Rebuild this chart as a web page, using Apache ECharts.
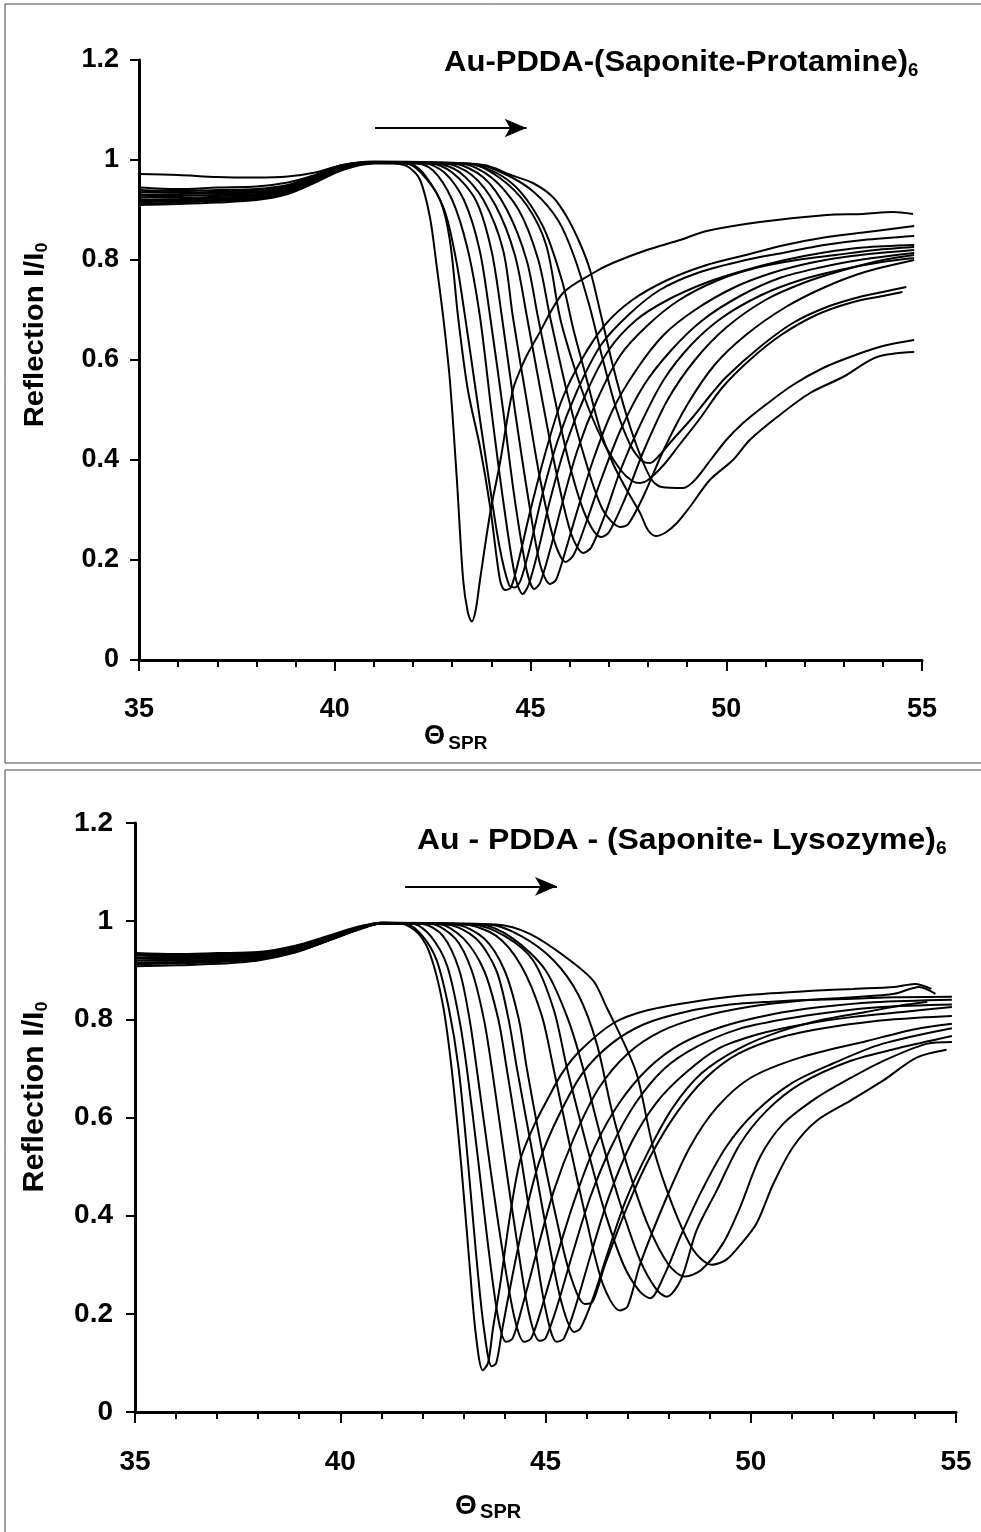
<!DOCTYPE html>
<html><head><meta charset="utf-8">
<script src="https://cdn.jsdelivr.net/npm/echarts@6/dist/echarts.min.js"></script>
<style>html,body{margin:0;padding:0;background:#fff}#c{width:981px;height:1532px}</style>
</head><body><div id="c"></div>
<script>
// ---------- axis ticks ----------
const xTicks = [35, 40, 45, 50, 55];
const yTicks = [0, 0.2, 0.4, 0.6, 0.8, 1, 1.2];

// ---------- top panel: Au-PDDA-(Saponite-Protamine)6 ----------
const t01 = [[35,0.972],[36,0.970],[37,0.966],[38,0.965],[38.8,0.967],[39.5,0.975],[40.2,0.99],[41,0.996],[41.6,0.993],[41.9,0.985],[42.18,0.96],[42.43,0.886],[42.6,0.79],[42.77,0.686],[42.94,0.56],[43.12,0.36],[43.28,0.16],[43.4,0.095],[43.5,0.077],[43.6,0.1],[43.71,0.16],[43.97,0.294],[44.22,0.394],[44.55,0.54],[44.85,0.6],[45.17,0.646],[45.83,0.734],[46.6,0.774],[47.1,0.794],[47.97,0.82],[48.82,0.84],[49.5,0.858],[50.86,0.876],[52.57,0.89],[53.5,0.892],[54.26,0.896],[54.77,0.892]];
const t02 = [[35,0.93],[36,0.932],[37,0.935],[38,0.937],[38.8,0.945],[39.5,0.965],[40.2,0.985],[41,0.996],[41.8,0.994],[42.2,0.975],[42.69,0.92],[42.94,0.84],[43.15,0.686],[43.4,0.54],[43.71,0.426],[43.97,0.306],[44.22,0.16],[44.35,0.14],[44.5,0.145],[44.7,0.2],[45.0,0.3],[45.4,0.42],[45.8,0.52],[46.3,0.6],[46.9,0.67],[47.6,0.72],[48.5,0.76],[49.5,0.79],[50.5,0.81],[51.5,0.83],[52.5,0.845],[53.5,0.855],[54.8,0.868]];
const t03 = [[35,0.918],[36,0.92],[37,0.924],[38,0.928],[38.8,0.94],[39.5,0.96],[40.2,0.983],[41,0.995],[41.9,0.993],[42.3,0.97],[42.8,0.9],[43.1,0.8],[43.33,0.686],[43.6,0.54],[43.9,0.38],[44.2,0.23],[44.45,0.15],[44.6,0.145],[44.75,0.16],[45.0,0.23],[45.3,0.33],[45.7,0.44],[46.2,0.54],[46.8,0.63],[47.5,0.69],[48.3,0.74],[49.3,0.775],[50.5,0.8],[51.5,0.815],[52.5,0.83],[53.5,0.84],[54.8,0.848]];
const t04 = [[35,0.94],[36,0.938],[37,0.94],[38,0.942],[38.8,0.95],[39.5,0.968],[40.2,0.988],[41,0.996],[42,0.995],[42.5,0.98],[43.0,0.92],[43.4,0.82],[43.71,0.686],[44.0,0.5],[44.3,0.32],[44.6,0.17],[44.8,0.132],[44.95,0.15],[45.2,0.22],[45.5,0.32],[45.9,0.43],[46.4,0.53],[47.0,0.62],[47.7,0.68],[48.5,0.72],[49.5,0.755],[50.5,0.78],[51.5,0.8],[52.5,0.815],[53.5,0.825],[54.8,0.83]];
const t05 = [[35,0.925],[36,0.928],[37,0.93],[38,0.93],[38.8,0.94],[39.5,0.962],[40.2,0.985],[41,0.995],[42.2,0.995],[42.8,0.975],[43.3,0.92],[43.7,0.82],[43.97,0.686],[44.3,0.5],[44.6,0.32],[44.9,0.18],[45.1,0.142],[45.25,0.155],[45.5,0.22],[45.8,0.31],[46.2,0.42],[46.7,0.52],[47.3,0.61],[48.0,0.67],[48.8,0.72],[49.8,0.76],[50.8,0.785],[51.8,0.8],[52.8,0.81],[53.8,0.82],[54.8,0.826]];
const t06 = [[35,0.912],[36,0.915],[37,0.918],[38,0.922],[38.8,0.935],[39.5,0.958],[40.2,0.982],[41,0.994],[42.4,0.994],[43.0,0.975],[43.6,0.92],[44.0,0.82],[44.27,0.686],[44.6,0.5],[44.95,0.32],[45.25,0.19],[45.5,0.152],[45.65,0.16],[45.9,0.22],[46.2,0.3],[46.6,0.4],[47.1,0.5],[47.7,0.58],[48.4,0.65],[49.2,0.7],[50.2,0.745],[51.2,0.775],[52.2,0.795],[53.2,0.808],[54.8,0.82]];
const t07 = [[35,0.935],[36,0.935],[37,0.933],[38,0.935],[38.8,0.945],[39.5,0.965],[40.2,0.987],[41,0.996],[42.6,0.993],[43.2,0.975],[43.8,0.92],[44.3,0.82],[44.55,0.686],[44.9,0.52],[45.25,0.36],[45.6,0.24],[45.9,0.196],[46.1,0.21],[46.4,0.27],[46.8,0.36],[47.3,0.46],[47.9,0.55],[48.6,0.62],[49.4,0.68],[50.4,0.73],[51.4,0.765],[52.4,0.785],[53.4,0.8],[54.8,0.814]];
const t08 = [[35,0.92],[36,0.922],[37,0.925],[38,0.928],[38.8,0.94],[39.5,0.96],[40.2,0.984],[41,0.995],[42.8,0.993],[43.5,0.97],[44.1,0.91],[44.6,0.81],[44.91,0.686],[45.3,0.52],[45.7,0.36],[46.05,0.25],[46.35,0.214],[46.55,0.225],[46.9,0.29],[47.3,0.38],[47.8,0.47],[48.4,0.56],[49.1,0.63],[49.9,0.685],[50.9,0.73],[51.9,0.76],[52.9,0.78],[53.9,0.795],[54.8,0.804]];
const t09 = [[35,0.93],[36,0.93],[37,0.928],[38,0.932],[38.8,0.942],[39.5,0.963],[40.2,0.986],[41,0.995],[43,0.993],[43.8,0.965],[44.4,0.9],[44.9,0.8],[45.19,0.686],[45.6,0.53],[46.0,0.39],[46.4,0.29],[46.8,0.246],[47.0,0.255],[47.4,0.32],[47.9,0.42],[48.5,0.52],[49.2,0.6],[50.0,0.665],[51.0,0.72],[52.0,0.755],[53.0,0.78],[54.0,0.8],[54.8,0.81]];
const t10 = [[35,0.91],[36,0.912],[37,0.915],[38,0.92],[38.8,0.932],[39.5,0.955],[40.2,0.98],[41,0.993],[43.2,0.993],[44.0,0.965],[44.7,0.9],[45.2,0.8],[45.5,0.686],[45.95,0.53],[46.4,0.4],[46.85,0.3],[47.3,0.266],[47.5,0.272],[47.9,0.33],[48.4,0.42],[49.0,0.51],[49.7,0.59],[50.5,0.65],[51.5,0.705],[52.5,0.745],[53.5,0.775],[54.8,0.8]];
const t11 = [[35,0.925],[36,0.925],[37,0.922],[38,0.925],[38.8,0.937],[39.5,0.96],[40.2,0.984],[41,0.994],[43.4,0.992],[44.5,0.955],[45.3,0.87],[45.8,0.76],[46.1,0.66],[46.44,0.56],[46.78,0.46],[47.1,0.394],[47.46,0.34],[47.8,0.294],[48.0,0.26],[48.2,0.248],[48.45,0.255],[48.74,0.274],[49.07,0.306],[49.58,0.36],[50.17,0.4],[50.6,0.44],[51.3,0.486],[52.14,0.534],[52.98,0.566],[53.85,0.606],[54.8,0.616]];
const t12 = [[35,0.945],[36,0.942],[37,0.945],[38,0.947],[38.8,0.955],[39.5,0.97],[40.2,0.99],[41,0.997],[43.6,0.992],[44.4,0.97],[45.1,0.935],[45.7,0.88],[46.1,0.81],[46.5,0.71],[46.85,0.6],[47.2,0.5],[47.55,0.43],[47.85,0.398],[48.05,0.394],[48.3,0.41],[48.56,0.434],[49.15,0.486],[49.6,0.53],[50.0,0.566],[50.86,0.626],[51.7,0.674],[52.57,0.706],[53.4,0.726],[54.0,0.736],[54.6,0.746]];
const t13 = [[35,0.915],[36,0.918],[37,0.92],[38,0.922],[38.8,0.935],[39.5,0.958],[40.2,0.983],[41,0.994],[43.4,0.993],[44.2,0.965],[44.9,0.91],[45.4,0.83],[45.75,0.686],[46.1,0.59],[46.5,0.5],[46.9,0.43],[47.3,0.38],[47.6,0.358],[47.8,0.354],[48.0,0.36],[48.4,0.39],[48.8,0.43],[49.3,0.48],[49.9,0.545],[50.6,0.6],[51.4,0.65],[52.3,0.69],[53.2,0.715],[54.0,0.728],[54.5,0.736]];
const t14 = [[35,0.935],[36,0.94],[37,0.938],[38,0.94],[38.8,0.948],[39.5,0.967],[40.2,0.988],[41,0.996],[43.8,0.99],[44.5,0.97],[45.06,0.954],[45.57,0.926],[45.93,0.886],[46.26,0.834],[46.52,0.78],[46.8,0.69],[47.1,0.59],[47.45,0.49],[47.8,0.41],[48.1,0.36],[48.35,0.346],[48.9,0.344],[49.2,0.36],[49.6,0.4],[50.0,0.44],[50.43,0.474],[51.0,0.51],[51.7,0.55],[52.5,0.585],[53.3,0.61],[54.0,0.628],[54.8,0.64]];
const topCurves = [t01,t02,t03,t04,t05,t06,t07,t08,t09,t10,t11,t12,t13,t14];
const topArrow = [[41.03,1.064],[44.9,1.064]];

// ---------- bottom panel: Au - PDDA - (Saponite- Lysozyme)6 ----------
const b01 = [[35,0.925],[36,0.926],[37,0.927],[38,0.931],[38.9,0.945],[39.7,0.967],[40.5,0.987],[41,0.997],[41.5,0.995],[41.9,0.975],[42.2,0.93],[42.5,0.83],[42.71,0.702],[42.95,0.5],[43.15,0.3],[43.3,0.16],[43.47,0.085],[43.6,0.1],[43.72,0.17],[43.9,0.262],[44.13,0.397],[44.38,0.512],[44.7,0.58],[45.03,0.634],[45.4,0.69],[45.84,0.736],[46.65,0.792],[47.46,0.818],[48.76,0.838],[50,0.85],[51.5,0.858],[52.5,0.862],[53.5,0.866],[54.0,0.872],[54.4,0.862]];
const b02 = [[35,0.915],[36,0.917],[37,0.92],[38,0.926],[38.9,0.94],[39.7,0.963],[40.5,0.985],[41,0.996],[41.6,0.994],[42.0,0.97],[42.35,0.92],[42.65,0.82],[42.88,0.702],[43.1,0.52],[43.3,0.33],[43.5,0.17],[43.69,0.093],[43.8,0.1],[43.95,0.17],[44.2,0.28],[44.5,0.4],[44.85,0.51],[45.3,0.6],[45.9,0.69],[46.6,0.75],[47.4,0.79],[48.4,0.815],[49.5,0.83],[50.5,0.836],[51.5,0.84],[52.5,0.842],[53.5,0.845],[54.9,0.846]];
const b03 = [[35,0.932],[36,0.93],[37,0.931],[38,0.934],[38.9,0.948],[39.7,0.968],[40.5,0.988],[41,0.997],[41.8,0.994],[42.2,0.97],[42.6,0.91],[42.9,0.8],[43.08,0.702],[43.35,0.52],[43.6,0.34],[43.85,0.19],[44.04,0.143],[44.2,0.15],[44.45,0.22],[44.8,0.33],[45.2,0.45],[45.7,0.56],[46.3,0.66],[47.0,0.73],[47.8,0.775],[48.8,0.805],[50,0.826],[51.2,0.838],[52.5,0.845],[53.5,0.852],[54.1,0.866],[54.5,0.852]];
const b04 = [[35,0.92],[36,0.92],[37,0.922],[38,0.928],[38.9,0.942],[39.7,0.964],[40.5,0.986],[41,0.996],[42,0.994],[42.5,0.97],[42.9,0.9],[43.15,0.8],[43.32,0.702],[43.65,0.5],[43.95,0.33],[44.25,0.19],[44.48,0.143],[44.65,0.15],[44.9,0.21],[45.25,0.31],[45.7,0.43],[46.2,0.54],[46.8,0.63],[47.5,0.7],[48.3,0.75],[49.3,0.785],[50.5,0.81],[51.7,0.825],[53,0.835],[54.9,0.84]];
const b05 = [[35,0.908],[36,0.91],[37,0.913],[38,0.92],[38.9,0.936],[39.7,0.96],[40.5,0.984],[41,0.995],[42.2,0.994],[42.8,0.965],[43.2,0.9],[43.5,0.8],[43.69,0.702],[44.0,0.52],[44.3,0.35],[44.6,0.2],[44.85,0.145],[45.0,0.15],[45.3,0.22],[45.65,0.32],[46.1,0.44],[46.6,0.54],[47.2,0.63],[47.9,0.7],[48.7,0.745],[49.7,0.78],[50.8,0.8],[52,0.815],[53.2,0.825],[54.9,0.83]];
const b06 = [[35,0.935],[36,0.933],[37,0.935],[38,0.937],[38.9,0.95],[39.7,0.97],[40.5,0.99],[41,0.997],[42.4,0.994],[43.0,0.965],[43.5,0.9],[43.85,0.8],[44.05,0.702],[44.4,0.52],[44.7,0.36],[45.0,0.21],[45.27,0.143],[45.45,0.15],[45.75,0.22],[46.1,0.32],[46.55,0.44],[47.1,0.55],[47.7,0.63],[48.4,0.69],[49.2,0.74],[50.2,0.77],[51.3,0.79],[52.5,0.805],[53.7,0.815],[54.9,0.825]];
const b07 = [[35,0.92],[36,0.922],[37,0.925],[38,0.93],[38.9,0.943],[39.7,0.965],[40.5,0.987],[41,0.996],[42.6,0.993],[43.3,0.965],[43.8,0.9],[44.1,0.8],[44.3,0.702],[44.7,0.52],[45.05,0.36],[45.4,0.22],[45.7,0.163],[45.85,0.17],[46.15,0.23],[46.5,0.32],[46.95,0.43],[47.5,0.53],[48.1,0.62],[48.8,0.69],[49.7,0.74],[50.7,0.775],[51.8,0.8],[52.8,0.815],[53.8,0.83],[54.3,0.836]];
const b08 = [[35,0.925],[36,0.928],[37,0.928],[38,0.931],[38.9,0.944],[39.7,0.966],[40.5,0.988],[41,0.996],[42.8,0.993],[43.5,0.965],[44.0,0.9],[44.35,0.8],[44.54,0.702],[44.9,0.54],[45.25,0.4],[45.6,0.28],[45.96,0.22],[46.15,0.225],[46.45,0.3],[47.0,0.42],[47.55,0.52],[48.2,0.61],[48.9,0.68],[49.7,0.73],[50.8,0.765],[52.0,0.785],[53.5,0.8],[54.9,0.807]];
const b09 = [[35,0.915],[36,0.916],[37,0.918],[38,0.923],[38.9,0.937],[39.7,0.961],[40.5,0.985],[41,0.995],[43,0.993],[43.8,0.97],[44.4,0.91],[44.9,0.81],[45.19,0.702],[45.6,0.54],[46.0,0.39],[46.4,0.26],[46.81,0.207],[47.0,0.215],[47.3,0.3],[47.95,0.437],[48.52,0.54],[49.17,0.62],[49.98,0.68],[51.2,0.722],[52.83,0.756],[54.0,0.78],[54.9,0.791]];
const b10 = [[35,0.93],[36,0.93],[37,0.932],[38,0.934],[38.9,0.946],[39.7,0.967],[40.5,0.988],[41,0.996],[43.2,0.993],[44.0,0.97],[44.7,0.92],[45.2,0.82],[45.52,0.702],[45.95,0.56],[46.4,0.42],[46.9,0.3],[47.3,0.245],[47.55,0.232],[47.9,0.28],[48.3,0.36],[48.8,0.45],[49.4,0.54],[50.1,0.61],[51.0,0.67],[52.0,0.71],[53.2,0.75],[54.9,0.782]];
const b11 = [[35,0.925],[36,0.924],[37,0.926],[38,0.93],[38.9,0.943],[39.7,0.965],[40.5,0.987],[41,0.996],[43.4,0.993],[44.2,0.965],[45.0,0.9],[45.55,0.8],[45.91,0.702],[46.35,0.56],[46.8,0.43],[47.3,0.31],[47.7,0.25],[47.95,0.235],[48.3,0.27],[48.68,0.37],[49.17,0.451],[49.74,0.546],[50.39,0.614],[51.2,0.668],[52.42,0.715],[53.63,0.742],[54.9,0.766]];
const b12 = [[35,0.912],[36,0.914],[37,0.917],[38,0.922],[38.9,0.937],[39.7,0.96],[40.5,0.985],[41,0.995],[43.6,0.993],[44.4,0.97],[45.2,0.92],[45.8,0.85],[46.25,0.75],[46.6,0.62],[47.0,0.5],[47.5,0.38],[48.0,0.3],[48.4,0.276],[48.8,0.29],[49.32,0.343],[49.74,0.417],[50.23,0.52],[50.79,0.587],[51.6,0.64],[52.42,0.68],[53.22,0.715],[54.28,0.75],[54.9,0.754]];
const b13 = [[35,0.93],[36,0.932],[37,0.933],[38,0.935],[38.9,0.948],[39.7,0.968],[40.5,0.989],[41,0.997],[43.8,0.993],[44.62,0.974],[45.52,0.925],[46.17,0.878],[46.49,0.824],[46.81,0.77],[47.22,0.689],[47.62,0.54],[48.1,0.42],[48.6,0.33],[49.05,0.3],[49.4,0.31],[49.74,0.34],[50.14,0.384],[50.55,0.465],[51.03,0.54],[51.6,0.593],[52.42,0.634],[53.22,0.675],[54.04,0.722],[54.77,0.738]];
const bottomCurves = [b01,b02,b03,b04,b05,b06,b07,b08,b09,b10,b11,b12,b13];
const bottomArrow = [[41.58,1.071],[45.28,1.071]];

// ---------- texts ----------
const topTitle = ['Au-PDDA-(Saponite-Protamine)', '6'];
const bottomTitle = ['Au - PDDA - (Saponite- Lysozyme)', '6'];
const yName = ['Reflection I/I', '0'];
const xName = ['\u0398', 'SPR'];

const FONT = '"Liberation Sans", Arial, sans-serif';
const chart = echarts.init(document.getElementById('c'), null, {renderer: 'canvas'});

function xAxisCfg(gi, fs, margin) {
  return {
    type: 'value', gridIndex: gi, min: xTicks[0], max: xTicks[xTicks.length - 1], interval: 5,
    axisLine: {show: true, onZero: false, lineStyle: {color: '#000', width: 3}},
    axisTick: {show: true, length: 11, lineStyle: {color: '#000', width: 2}},
    minorTick: {show: true, splitNumber: 5, length: 7, lineStyle: {color: '#000', width: 2}},
    splitLine: {show: false}, minorSplitLine: {show: false},
    axisLabel: {color: '#000', fontFamily: FONT, fontWeight: 'bold', fontSize: fs, margin: margin}
  };
}
function yAxisCfg(gi, fs, margin) {
  return {
    type: 'value', gridIndex: gi, min: yTicks[0], max: yTicks[yTicks.length - 1], interval: 0.2,
    axisLine: {show: true, onZero: false, lineStyle: {color: '#000', width: 3}},
    axisTick: {show: true, length: 9, lineStyle: {color: '#000', width: 2}},
    splitLine: {show: false},
    axisLabel: {color: '#000', fontFamily: FONT, fontWeight: 'bold', fontSize: fs, margin: margin,
      formatter: v => (Math.round(v * 10) / 10).toString()}
  };
}
function lineSeries(data, gi) {
  return {
    type: 'line', xAxisIndex: gi, yAxisIndex: gi, data: data,
    symbol: 'none', showSymbol: false, smooth: 0.3, silent: true,
    lineStyle: {color: '#000', width: 2}, z: 3
  };
}
function arrowLine(arr) {
  return {
    silent: true, symbol: ['none', 'arrow'], symbolSize: [14, 22], animation: false,
    lineStyle: {color: '#000', width: 2, type: 'solid'}, label: {show: false},
    data: [[{coord: arr[0]}, {coord: arr[1]}]]
  };
}

const series = [];
topCurves.forEach((c, i) => { const s = lineSeries(c, 0); if (i === 0) s.markLine = arrowLine(topArrow); series.push(s); });
bottomCurves.forEach((c, i) => { const s = lineSeries(c, 1); if (i === 0) s.markLine = arrowLine(bottomArrow); series.push(s); });

function titleText(x, y, parts, fs, sfs, sx) {
  return {type: 'text', x: x, y: y, scaleX: sx, z: 10, style: {
    text: '{a|' + parts[0] + '}{s|' + parts[1] + '}',
    rich: {
      a: {fontFamily: FONT, fontWeight: 'bold', fontSize: fs, fill: '#000', lineHeight: 34},
      s: {fontFamily: FONT, fontWeight: 'bold', fontSize: sfs, fill: '#000', lineHeight: 20, verticalAlign: 'bottom'}
    }
  }};
}
function yLabel(cx, cy, fs) {
  return {type: 'text', x: cx, y: cy, rotation: Math.PI / 2, scaleX: 1.05, z: 10, style: {
    text: '{a|' + yName[0] + '}{s|' + yName[1] + '}', align: 'center', verticalAlign: 'middle',
    rich: {
      a: {fontFamily: FONT, fontWeight: 'bold', fontSize: fs, fill: '#000', lineHeight: 32},
      s: {fontFamily: FONT, fontWeight: 'bold', fontSize: Math.round(fs * 0.6), fill: '#000', lineHeight: 18, verticalAlign: 'bottom'}
    }
  }};
}
function xLabel(x, y, fs) {
  return {type: 'text', x: x, y: y, z: 10, style: {
    text: '{a|' + xName[0] + '} {s|' + xName[1] + '}',
    rich: {
      a: {fontFamily: FONT, fontWeight: 'bold', fontSize: fs, fill: '#000', lineHeight: 32},
      s: {fontFamily: FONT, fontWeight: 'bold', fontSize: Math.round(fs * 0.72), fill: '#000', lineHeight: 20, verticalAlign: 'bottom'}
    }
  }};
}

chart.setOption({
  animation: false,
  backgroundColor: '#fff',
  grid: [
    {left: 139, top: 60, width: 783, height: 600},
    {left: 135, top: 823, width: 821, height: 589}
  ],
  xAxis: [xAxisCfg(0, 27, 36), xAxisCfg(1, 28, 36)],
  yAxis: [yAxisCfg(0, 27, 20), yAxisCfg(1, 28, 22)],
  series: series,
  graphic: [
    {type: 'rect', shape: {x: 5, y: 4, width: 990, height: 759}, style: {fill: 'none', stroke: '#444', lineWidth: 1}, z: 0, silent: true},
    {type: 'rect', shape: {x: 5, y: 770, width: 990, height: 780}, style: {fill: 'none', stroke: '#444', lineWidth: 1}, z: 0, silent: true},
    titleText(444, 46, topTitle, 30, 18, 1.035),
    titleText(417, 824, bottomTitle, 30, 18, 1.065),
    yLabel(35, 335, 28),
    yLabel(35, 1097, 29),
    xLabel(424, 721, 27),
    xLabel(455, 1490, 28)
  ]
});
</script></body></html>
